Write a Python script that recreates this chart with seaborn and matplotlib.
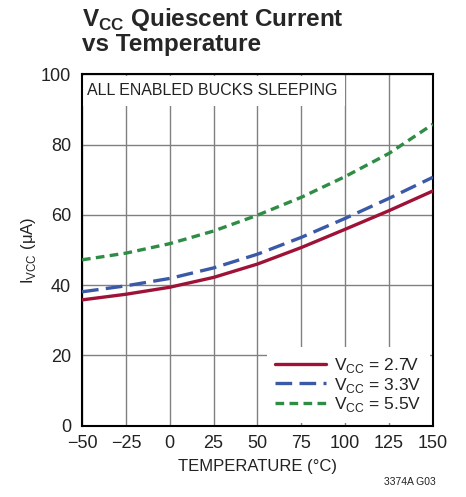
import numpy as np
import pandas as pd
import matplotlib
matplotlib.use('Agg')
import matplotlib.pyplot as plt
import seaborn as sns

# Values
temperature = [-50, -25, 0, 25, 50, 75, 100, 125, 150]
icc_2v7 = [35.8, 37.4, 39.4, 42.2, 46.0, 50.7, 55.9, 61.2, 66.8]
icc_3v3 = [38.1, 39.8, 41.9, 44.9, 48.8, 53.6, 59.0, 64.7, 70.7]
icc_5v5 = [47.2, 49.1, 51.8, 55.4, 59.9, 65.0, 70.9, 77.5, 85.8]
series_labels = [r'V$_{\mathregular{CC}}$ = 2.7V', r'V$_{\mathregular{CC}}$ = 3.3V', r'V$_{\mathregular{CC}}$ = 5.5V']
x_ticks = [-50, -25, 0, 25, 50, 75, 100, 125, 150]
y_ticks = [0, 20, 40, 60, 80, 100]

# Long-form table for seaborn
df = pd.DataFrame({
    'temp': temperature * 3,
    'icc': icc_2v7 + icc_3v3 + icc_5v5,
    'vcc': [series_labels[0]] * 9 + [series_labels[1]] * 9 + [series_labels[2]] * 9,
})

sns.set_style('white')
plt.rcParams['font.family'] = ['Liberation Sans', 'DejaVu Sans']
plt.rcParams['mathtext.fontset'] = 'custom'
plt.rcParams['mathtext.rm'] = 'Liberation Sans'
plt.rcParams['mathtext.bf'] = 'Liberation Sans:bold'

fig = plt.figure(figsize=(4.66, 4.97), dpi=100)
ax = fig.add_axes([0.176, 0.1435, 0.753, 0.707])

palette = ['#9E1238', '#3A5AA8', '#2E8C45']
dashes = ['', (5, 2.2), (2.6, 1.6)]
sns.lineplot(data=df, x='temp', y='icc', hue='vcc', style='vcc', palette=palette,
             dashes=dashes, linewidth=2.4, ax=ax, zorder=3)

ax.set_xlim(-50, 150)
ax.set_ylim(0, 100)
ax.set_xticks(x_ticks)
ax.set_yticks(y_ticks)
ax.set_xticklabels([str(t).replace('-', '\u2212') for t in x_ticks])
ax.tick_params(axis='both', length=0, labelsize=13, colors='#222222')
ax.tick_params(axis='x', pad=7)
ax.tick_params(axis='y', pad=8)
ax.grid(True, color='#808080', linewidth=1.0)
ax.set_axisbelow(True)
for s in ax.spines.values():
    s.set_color('black')
    s.set_linewidth(1.5)

ax.set_xlabel('TEMPERATURE (\u00b0C)', fontsize=12, color='#222222', labelpad=5)
ax.set_ylabel(r'I$_{\mathregular{VCC}}$' + ' (\u03bcA)', fontsize=12,
              color='#222222', labelpad=2)

# Annotation with white background hides grid lines behind it
ax.text(-47.3, 95.3, 'ALL ENABLED BUCKS SLEEPING', fontsize=11.5, color='#222222',
        va='center', ha='left', zorder=2,
        bbox=dict(facecolor='white', edgecolor='none', pad=5.5))

leg = ax.legend(loc='lower right', frameon=True, fontsize=12.5, handlelength=2.9,
                handletextpad=0.5, labelspacing=0.05, borderaxespad=0.15,
                borderpad=0.5, fancybox=False)
leg.get_frame().set_edgecolor('none')
leg.get_frame().set_facecolor('white')
leg.get_frame().set_alpha(1)
for t in leg.get_texts():
    t.set_color('#222222')

fig.text(0.176, 0.988, r'V$_{\mathbf{CC}}$ Quiescent Current' + '\nvs Temperature',
         fontsize=17.5, fontweight='bold', va='top', ha='left', linespacing=1.0)
fig.text(0.935, 0.02, '3374A G03', fontsize=7.5, ha='right', va='bottom', color='#222222')

fig.savefig('out.png', dpi=100)
